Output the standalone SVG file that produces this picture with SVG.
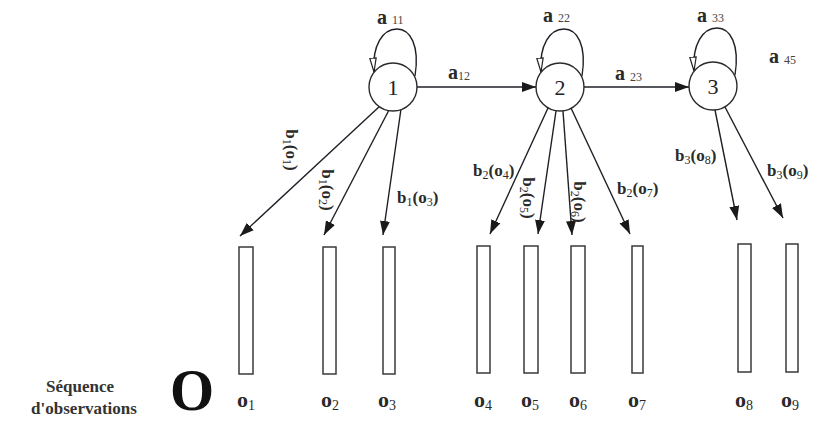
<svg xmlns="http://www.w3.org/2000/svg" width="814" height="423" viewBox="0 0 814 423">
  <style>
    .ln { fill: none; stroke: #1f1f28; stroke-width: 1.4; }
    .node { fill: #fff; stroke: #2a2a2a; stroke-width: 1.4; }
    .num { font-family: "Liberation Serif", serif; font-size: 22px; fill: #222; text-anchor: middle; }
    .obs { fill: #fff; stroke: #3a3a3a; stroke-width: 1.5; }
    .lbl { font-family: "Liberation Serif", serif; font-weight: bold; font-size: 17px; fill: #2a2a2a; }
    .sub { font-size: 12px; font-weight: normal; }
    .al { font-family: "Liberation Serif", serif; font-weight: bold; font-size: 20px; fill: #2a2a2a; }
    .as { font-size: 12px; font-weight: normal; fill: #444; }
    .ol { font-family: "Liberation Serif", serif; font-weight: bold; font-size: 22px; fill: #2a2a2a; }
    .os { font-size: 14px; font-weight: normal; }
    .cap { font-family: "Liberation Serif", serif; font-weight: bold; font-size: 17px; fill: #333; text-anchor: middle; }
    .big { font-family: "Liberation Serif", serif; font-weight: bold; font-size: 54px; fill: #111; text-anchor: middle; }
  </style>
  <defs>
    <marker id="arrow" markerUnits="userSpaceOnUse" markerWidth="15" markerHeight="11" refX="14" refY="5.5" orient="auto">
      <path d="M0,0.5 L14,5.5 L0,10.5 Z" fill="#1a1a1a"/>
    </marker>
    <marker id="open" markerUnits="userSpaceOnUse" markerWidth="16" markerHeight="9" refX="14.5" refY="4" orient="auto">
      <path d="M0.5,0.8 L14.5,4 L0.5,7.2 Z" fill="#fff" stroke="#222" stroke-width="1.2"/>
    </marker>
  </defs>

  <rect width="814" height="423" fill="#fff"/>

  <!-- connectors -->
  <g id="connectors">
    <line class="ln" x1="417" y1="87" x2="536" y2="87" marker-end="url(#arrow)"/>
    <line class="ln" x1="584" y1="87" x2="689" y2="87" marker-end="url(#arrow)"/>
    <line class="ln" x1="380" y1="106" x2="240" y2="236" marker-end="url(#arrow)"/>
    <line class="ln" x1="389" y1="110" x2="324" y2="235" marker-end="url(#arrow)"/>
    <line class="ln" x1="401" y1="109" x2="383" y2="235" marker-end="url(#arrow)"/>
    <line class="ln" x1="548" y1="108" x2="490" y2="234" marker-end="url(#arrow)"/>
    <line class="ln" x1="556" y1="111" x2="538" y2="234" marker-end="url(#arrow)"/>
    <line class="ln" x1="563" y1="111" x2="572" y2="235" marker-end="url(#arrow)"/>
    <line class="ln" x1="571" y1="108" x2="630" y2="234" marker-end="url(#arrow)"/>
    <line class="ln" x1="715" y1="110" x2="737" y2="220" marker-end="url(#arrow)"/>
    <line class="ln" x1="725" y1="107" x2="783" y2="218" marker-end="url(#arrow)"/>

    <text class="al" x="448" y="79">a<tspan class="as" dy="1">12</tspan></text>
    <text class="al" x="615" y="80">a <tspan class="as" dy="1">23</tspan></text>
    <text class="al" x="769" y="63">a <tspan class="as" dy="1">45</tspan></text>

    <text class="lbl" transform="translate(291,150) rotate(90)" text-anchor="middle" y="5">b<tspan class="sub" dy="3">1</tspan><tspan dy="-3">(o</tspan><tspan class="sub" dy="3">1</tspan><tspan dy="-3">)</tspan></text>
    <text class="lbl" transform="translate(327,190) rotate(90)" text-anchor="middle" y="5">b<tspan class="sub" dy="3">1</tspan><tspan dy="-3">(o</tspan><tspan class="sub" dy="3">2</tspan><tspan dy="-3">)</tspan></text>
    <text class="lbl" x="397" y="203">b<tspan class="sub" dy="3">1</tspan><tspan dy="-3">(o</tspan><tspan class="sub" dy="3">3</tspan><tspan dy="-3">)</tspan></text>
    <text class="lbl" x="473" y="176">b<tspan class="sub" dy="3">2</tspan><tspan dy="-3">(o</tspan><tspan class="sub" dy="3">4</tspan><tspan dy="-3">)</tspan></text>
    <text class="lbl" transform="translate(528,198) rotate(90)" text-anchor="middle" y="5">b<tspan class="sub" dy="3">2</tspan><tspan dy="-3">(o</tspan><tspan class="sub" dy="3">5</tspan><tspan dy="-3">)</tspan></text>
    <text class="lbl" transform="translate(579,202) rotate(90)" text-anchor="middle" y="5">b<tspan class="sub" dy="3">2</tspan><tspan dy="-3">(o</tspan><tspan class="sub" dy="3">6</tspan><tspan dy="-3">)</tspan></text>
    <text class="lbl" x="617" y="194">b<tspan class="sub" dy="3">2</tspan><tspan dy="-3">(o</tspan><tspan class="sub" dy="3">7</tspan><tspan dy="-3">)</tspan></text>
    <text class="lbl" x="675" y="161">b<tspan class="sub" dy="3">3</tspan><tspan dy="-3">(o</tspan><tspan class="sub" dy="3">8</tspan><tspan dy="-3">)</tspan></text>
    <text class="lbl" x="767" y="176">b<tspan class="sub" dy="3">3</tspan><tspan dy="-3">(o</tspan><tspan class="sub" dy="3">9</tspan><tspan dy="-3">)</tspan></text>
  </g>

  <!-- hidden states -->
  <g id="state1" transform="translate(393,87)">
    <path class="ln" d="M22,-11 C27,-42 17,-58 4,-58 C-10,-58 -21,-42 -19,-15" marker-end="url(#open)"/>
    <circle class="node" r="24"/>
    <text class="num" y="8">1</text>
    <text class="al" x="-16" y="-63">a <tspan class="as">11</tspan></text>
  </g>
  <g id="state2" transform="translate(560,87)">
    <path class="ln" d="M22,-11 C27,-42 17,-58 4,-58 C-10,-58 -21,-42 -19,-15" marker-end="url(#open)"/>
    <circle class="node" r="24"/>
    <text class="num" y="8">2</text>
    <text class="al" x="-17" y="-65">a <tspan class="as">22</tspan></text>
  </g>
  <g id="state3" transform="translate(713,86)">
    <path class="ln" d="M22,-11 C27,-42 17,-58 4,-58 C-10,-58 -21,-42 -19,-15" marker-end="url(#open)"/>
    <circle class="node" r="24"/>
    <text class="num" y="8">3</text>
    <text class="al" x="-16" y="-64">a <tspan class="as">33</tspan></text>
  </g>

  <!-- observation slots -->
  <g id="obs1"><rect class="obs" x="239" y="247" width="14" height="127"/><text class="ol" x="237" y="407">o<tspan class="os" dy="3">1</tspan></text></g>
  <g id="obs2"><rect class="obs" x="323" y="247" width="13" height="127"/><text class="ol" x="321" y="407">o<tspan class="os" dy="3">2</tspan></text></g>
  <g id="obs3"><rect class="obs" x="383" y="247" width="12" height="127"/><text class="ol" x="378" y="407">o<tspan class="os" dy="3">3</tspan></text></g>
  <g id="obs4"><rect class="obs" x="477" y="246" width="13" height="127"/><text class="ol" x="474" y="407">o<tspan class="os" dy="3">4</tspan></text></g>
  <g id="obs5"><rect class="obs" x="524" y="246" width="14" height="127"/><text class="ol" x="521" y="407">o<tspan class="os" dy="3">5</tspan></text></g>
  <g id="obs6"><rect class="obs" x="571" y="246" width="14" height="127"/><text class="ol" x="569" y="407">o<tspan class="os" dy="3">6</tspan></text></g>
  <g id="obs7"><rect class="obs" x="632" y="246" width="11" height="127"/><text class="ol" x="628" y="407">o<tspan class="os" dy="3">7</tspan></text></g>
  <g id="obs8"><rect class="obs" x="738" y="244" width="13" height="128"/><text class="ol" x="735" y="407">o<tspan class="os" dy="3">8</tspan></text></g>
  <g id="obs9"><rect class="obs" x="786" y="244" width="12" height="128"/><text class="ol" x="781" y="407">o<tspan class="os" dy="3">9</tspan></text></g>

  <!-- sequence caption -->
  <g id="caption">
    <text class="cap" x="80" y="392">Séquence</text>
    <text class="cap" x="84" y="414">d'observations</text>
    <text class="big" transform="translate(192,410) scale(1.05,1.1)">O</text>
  </g>
</svg>
